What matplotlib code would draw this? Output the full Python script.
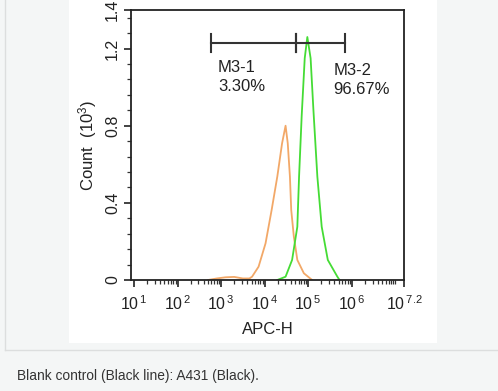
import numpy as np
import matplotlib
matplotlib.use('Agg')
import matplotlib.pyplot as plt
from matplotlib.patches import Rectangle
from matplotlib.lines import Line2D
from matplotlib.ticker import FixedLocator, NullFormatter

plt.rcParams['font.family'] = ['Liberation Sans', 'DejaVu Sans']
plt.rcParams['mathtext.default'] = 'regular'

# histogram outlines: log10(APC-H) and count (10^3)
orange_log = [2.70, 2.90, 3.10, 3.30, 3.50, 3.65, 3.71, 3.86, 4.02, 4.16, 4.29, 4.40, 4.48,
              4.53, 4.58, 4.61, 4.67, 4.75, 4.90, 5.09]
orange_cnt = [0.0, 0.008, 0.014, 0.016, 0.008, 0.008, 0.017, 0.069, 0.19, 0.363, 0.536, 0.709, 0.80,
              0.709, 0.536, 0.363, 0.225, 0.104, 0.035, 0.0]

green_log = [4.29, 4.48, 4.63, 4.75, 4.79, 4.85, 4.92, 4.98, 5.055, 5.12, 5.21, 5.31, 5.45, 5.67, 5.72]
green_cnt = [0.0, 0.017, 0.104, 0.276, 0.536, 0.85, 1.15, 1.26, 1.15, 0.88, 0.536, 0.276, 0.104, 0.017, 0.0]

# marker gates (log10 bounds) and their labels
gate_names = ['M3-1', 'M3-2']
gate_pcts = ['3.30%', '96.67%']
gate_lo = [2.77, 4.71]
gate_hi = [4.71, 5.84]
gate_y = 1.23

x_ticks_log = [1, 2, 3, 4, 5, 6, 7.2]
x_tick_labels = ['$10^{\\,1}$', '$10^{\\,2}$', '$10^{\\,3}$', '$10^{\\,4}$', '$10^{\\,5}$',
                 '$10^{\\,6}$', '$10^{\\,7.2}$']
y_ticks = [0, 0.4, 0.8, 1.2, 1.4]
y_tick_labels = ['0', '0.4', '0.8', '1.2', '1.4']

W, H = 498, 391
fig = plt.figure(figsize=(W / 100, H / 100), dpi=100, facecolor='#f4f6f6')

# page background: white panel, frame line and caption band
fig.patches.append(Rectangle((69 / W, 1 - 343 / H), (437 - 69) / W, 343 / H,
                             transform=fig.transFigure, facecolor='white', edgecolor='none', zorder=-5))
fig.add_artist(Line2D([5 / W, 5 / W], [1 - 350 / H, 1], transform=fig.transFigure, color='#dcdede', lw=1,
                      zorder=-5))
fig.add_artist(Line2D([5 / W, 1], [1 - 350 / H, 1 - 350 / H], transform=fig.transFigure, color='#dcdede', lw=1,
                      zorder=-5))
fig.text(17 / W, 1 - 376 / H, 'Blank control (Black line): A431 (Black).', fontsize=9.9,
         color='#333333', va='center', ha='left')

ax = fig.add_axes([131 / W, 1 - 280 / H, (404 - 131) / W, 270 / H])
ax.set_zorder(2)
ax.set_facecolor('white')

ax.plot(10 ** np.array(orange_log), orange_cnt, color='#f2a868', lw=1.3)
ax.plot(10 ** np.array(green_log), green_cnt, color='#45dc35', lw=1.3)

for lo, hi, name, pct in zip(gate_lo, gate_hi, gate_names, gate_pcts):
    ax.plot([10 ** lo, 10 ** hi], [gate_y, gate_y], color='#333333', lw=1.5)
    for v in (lo, hi):
        ax.plot([10 ** v, 10 ** v], [gate_y - 0.048, gate_y + 0.048], color='#333333', lw=1.5)

ax.text(10 ** 2.93, 1.053, gate_names[0] + '\n' + gate_pcts[0], fontsize=12, color='#222222',
        va='center', ha='left', linespacing=1.3)
ax.text(10 ** 5.58, 1.037, gate_names[1] + '\n' + gate_pcts[1], fontsize=12, color='#222222',
        va='center', ha='left', linespacing=1.3)

ax.set_xscale('log')
ax.set_xlim(10 ** 0.93, 10 ** 7.2)
ax.set_ylim(0, 1.4)

ax.xaxis.set_major_locator(FixedLocator([10 ** v for v in x_ticks_log]))
ax.set_xticklabels(x_tick_labels)
minor_x = [m * 10 ** d for d in range(1, 8) for m in range(2, 10) if np.log10(m * 10 ** d) < 7.2]
minor_x.append(10 ** 7)
ax.xaxis.set_minor_locator(FixedLocator(minor_x))
ax.xaxis.set_minor_formatter(NullFormatter())

ax.set_yticks(y_ticks)
ax.set_yticklabels(y_tick_labels, rotation=90, va='center')
ax.yaxis.set_minor_locator(FixedLocator([i * 0.08 for i in range(1, 18)]))

ax.tick_params(axis='x', which='major', length=5, width=1.2, labelsize=11.5, pad=5, colors='#222222')
ax.tick_params(axis='y', which='major', length=5, width=1.2, labelsize=11.5, pad=3, colors='#222222')
ax.tick_params(which='minor', length=3, width=0.9, colors='#333333')

for s in ax.spines.values():
    s.set_linewidth(1.3)
    s.set_color('#222222')

ax.set_xlabel('APC-H', fontsize=12, color='#222222', labelpad=7)
ax.set_ylabel('Count  (10$^{3}$)', fontsize=12, color='#222222', labelpad=4)

fig.savefig('out.png', dpi=100, facecolor=fig.get_facecolor())
